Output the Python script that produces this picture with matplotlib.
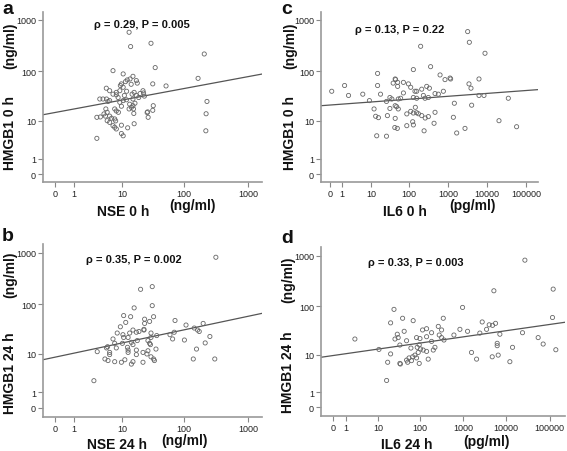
import numpy as np
import matplotlib
matplotlib.use("Agg")
import matplotlib.pyplot as plt

plt.rcParams['font.family'] = ['Liberation Sans', 'DejaVu Sans']

W, H = 567, 452

# panel a: NSE 0 h (ng/ml) vs HMGB1 0 h (ng/ml)
nse_0h = [13.2, 30, 14, 206, 7, 35, 165, 10.5, 15.3, 12.3, 13.7, 17.4, 11.5, 9.8, 9.4,
          10.5, 14.3, 18, 5.3, 6.1, 9.2, 8, 32, 52, 4.0, 5.35, 5.7, 6.1, 4.6, 7, 8, 8.6,
          9.2, 10.5, 11.9, 9.8, 13.5, 14.4, 15.3, 15.6, 13.2, 16, 14.8, 17.4, 15.3, 22.3,
          22.8, 23.5, 32.6, 32, 227, 5.2, 5.5, 4.8, 7.5, 8, 8.7, 15.8, 220, 3.5, 4.1, 5.1,
          6.1, 6.6, 7.5, 7.8, 26.5, 27, 26, 5.5, 6.1, 16, 7, 7.5, 8, 12.5, 9.8, 218, 9.8,
          10.5, 3.5, 12, 19, 11, 20, 16.5]
hmgb1_a = [572, 349, 301, 216, 102, 117, 72, 88, 79, 67, 70, 65, 62, 56, 52,
           48, 55, 58, 46, 41, 41, 38, 56, 51, 28, 28, 25, 26, 28, 35, 34, 30,
           24, 26, 27, 20, 22, 19, 20.5, 17.6, 17.6, 38, 35, 33, 28, 41,
           37, 32, 20.5, 16.5, 25, 17.6, 15, 13.9, 17.6, 16, 15, 14.2, 14, 11.8, 12, 12.5,
           12.5, 11.3, 10.9, 9.9, 15.3, 11.8, 14.8, 10, 9.2, 8.6, 7.8, 7.2, 6.6, 7, 8, 6, 5.2,
           4.6, 4, 40, 30, 33, 36, 23]

# panel b: NSE 24 h (ng/ml) vs HMGB1 24 h (ng/ml)
nse_24h = [312, 31.4, 20.4, 31.4, 16, 33, 10.7, 14, 11.6, 9.4, 23.7, 23.7, 28.5, 72, 107,
           198, 144, 162, 172, 252, 8.3, 13.5, 12.7, 10.7, 10.4, 15.3, 17.4, 19.2, 23.1,
           23.1, 30, 30, 26.8, 37, 60, 66, 70, 7, 7.5, 10.2, 14.4, 15.3, 18, 28.5, 29.4,
           101, 213, 5.6, 5.35, 8, 12.4, 12.7, 12.7, 17.4, 26.8, 36, 22.3, 25.8, 30, 33,
           17.4, 3.56, 5, 5.7, 6.1, 6.1, 7.5, 9.8, 14.4, 15.3, 22.3, 34, 139, 156, 300,
           3.05, 11.2]
hmgb1_b = [822, 221, 196, 94, 85, 57, 60, 57, 44, 36, 51, 42, 46, 48, 39,
           42, 34, 31, 29, 23, 27, 27, 22, 22, 25, 31, 28, 29, 31,
           32, 27, 22, 19, 24, 25, 20.5, 28, 20.5, 16.7, 16.7, 17.5, 15.7, 19, 16.7, 15.7,
           19.5, 17, 14.2, 13.4, 13.4, 13.8, 12.1, 10.8, 12.1, 11.7, 12.7, 10.8, 10, 8.7, 7.8,
           9.7, 11.2, 7.8, 7.2, 9.7, 10.8, 6.8, 6.6, 6, 6.8, 6.6, 7.2, 7.8, 12.7, 7.8,
           2.34, 7.5]

# panel c: IL6 0 h (pg/ml) vs HMGB1 0 h (ng/ml)
il6_0h = [3187, 3516, 200, 8830, 360, 130, 15, 44, 1130, 1170, 6200, 628, 840, 1.3, 15,
          0.08, 1.9, 5.7, 18, 45, 51, 39, 51, 72, 97, 111, 143, 158, 213, 286, 335, 467,
          568, 763, 315, 235, 259, 130, 158, 72, 61, 53, 32, 36, 26, 8.9, 12, 13.3, 15.8,
          27.5, 32, 44, 48, 53, 44, 50, 88, 125, 130, 158, 175, 213, 262, 315, 245, 441,
          1455, 1374, 2723, 1671, 3442, 3875, 4030, 8318, 6200, 20090, 34750, 56600,
          14.2, 26, 43, 467, 88, 111, 130, 146]
hmgb1_c = [589, 365, 305, 223, 122, 107, 90, 70, 73, 70, 70, 84, 68, 52, 52,
           40, 33, 35, 35, 68, 60, 58, 50, 60, 56, 48, 40, 40, 44, 50, 46, 36,
           35, 40, 30, 33, 29, 30, 29, 37, 29, 28, 30, 28, 25, 26, 17.6, 12.4, 11.6,
           12.8, 18, 20.5, 19.6, 17.6, 11.2, 6.8, 7.8, 9.5, 8.1, 14.7, 14, 12.8, 11.4, 12.2, 6, 8.8,
           23, 11.8, 6.8, 5.35, 56, 46, 21, 33, 33, 10, 29, 7.4,
           4.6, 4.5, 7.1, 15, 13.9, 15.7, 14.5, 19]

# panel d: IL6 24 h (pg/ml) vs HMGB1 24 h (ng/ml)
il6_24h = [27000, 121600, 5190, 981, 24.6, 117200, 39.5, 351, 70, 20.4, 2790, 5670, 4050,
           4840, 269, 852, 3520, 144, 116, 321, 29.5, 7140, 1280, 2460, 619, 23800, 31, 26,
           84, 101, 144, 188, 283, 321, 364, 54700, 188, 49, 34, 62, 87, 97, 104, 120, 144,
           92, 2.2, 10.5, 20.4, 17.3, 34, 35, 49, 56, 68, 77, 64, 84, 97, 157, 206, 225, 52,
           16.3, 1580, 2070, 4750, 6530, 6190, 6190, 12150, 14000, 71400, 140000, 43]
hmgb1_d = [819, 218, 202, 94, 86, 59, 57, 57, 51, 46, 48, 45, 42,
           41, 39, 34, 34, 35, 33, 33, 27, 27, 31, 28.5, 26, 29, 23, 21.5,
           23, 22, 24, 29, 26, 23, 20.5, 23, 19.2, 19.8, 16.1, 13.9, 14.4, 16.3, 13.3, 12.6, 11.8,
           11.2, 21.5, 13, 10.4, 6.8, 6.4, 6.2, 7.6, 8.5, 9, 9.8, 7.4, 8.5, 6.4, 8, 12.6, 14.4, 6.8,
           2.4, 11.2, 8, 9, 9.8, 15.6, 17.5, 7, 14.4, 16.9, 12.8, 31]

# fitted lines, log10(v + 1) space: (intercept, slope)
fit_a = (1.199, 0.233)
fit_b = (0.978, 0.265)
fit_c = (1.346, 0.0563)
fit_d = (1.025, 0.123)

stats_a = "\u03c1 = 0.29, P = 0.005"
stats_b = "\u03c1 = 0.35, P = 0.002"
stats_c = "\u03c1 = 0.13, P = 0.22"
stats_d = "\u03c1 = 0.33, P = 0.003"

nse_ticks = [0, 1, 10, 100, 1000]
il6_ticks = [0, 1, 10, 100, 1000, 10000, 100000]
hmgb1_ticks = [0, 1, 10, 100, 1000]


def fwd(v):
    return np.log10(np.clip(np.asarray(v, dtype=float) + 1, 1e-6, None))


def inv(u):
    return 10 ** np.asarray(u, dtype=float) - 1


def rect(left, top, right, bottom):
    return [left / W, 1 - bottom / H, (right - left) / W, (bottom - top) / H]


def label(ax, text, dx, dy, rot=0):
    ax.annotate(text, xy=(0, 0), xycoords='axes fraction', xytext=(dx, dy),
                textcoords='offset pixels', ha='center', va='center',
                rotation=rot, fontsize=10, fontweight='bold', color='#111')


def panel(r, xs, ys, fit, xticks, xlim, ylim):
    ax = fig.add_axes(rect(*r))
    ax.set_xscale('function', functions=(fwd, inv))
    ax.set_yscale('function', functions=(fwd, inv))
    ax.scatter(xs, ys, s=9, facecolors='none', edgecolors='#666666', linewidths=0.6,
               zorder=3)
    lx = np.array(xlim)
    ly = inv(fit[0] + fit[1] * fwd(lx))
    ax.plot(lx, ly, color='#555555', lw=0.9, zorder=2)
    ax.set_xlim(xlim)
    ax.set_ylim(ylim)
    ax.set_xticks(xticks)
    ax.set_xticklabels([str(t) for t in xticks])
    ax.set_yticks(hmgb1_ticks)
    ax.set_yticklabels([str(t) for t in hmgb1_ticks])
    ax.minorticks_off()
    for s in ['top', 'right']:
        ax.spines[s].set_visible(False)
    for s in ['left', 'bottom']:
        ax.spines[s].set_color('#999999')
        ax.spines[s].set_linewidth(1.2)
    ax.tick_params(length=3.5, width=0.8, color='#888888', labelsize=6.5, pad=1.5,
                   labelcolor='#222222')
    return ax


fig = plt.figure(figsize=(W / 100, H / 100), dpi=100)

ax_a = panel((43, 13, 262, 183), nse_0h, hmgb1_a, fit_a, nse_ticks,
             (-0.34, 1620), (-0.29, 1416))
label(ax_a, 'HMGB1 0 h', -33, 50, 90)
label(ax_a, '(ng/ml)', -33, 137, 90)
label(ax_a, 'NSE 0 h', 80, -29)
label(ax_a, '(ng/ml)', 150, -23)

ax_c = panel((321, 13, 538, 183), il6_0h, hmgb1_c, fit_c, il6_ticks,
             (-0.425, 199000), (-0.29, 1416))
label(ax_c, 'HMGB1 0 h', -31, 50, 90)
label(ax_c, '(ng/ml)', -31, 137, 90)
label(ax_c, 'IL6 0 h', 84, -29)
label(ax_c, '(pg/ml)', 152, -23)

ax_b = panel((43, 245, 262, 417.7), nse_24h, hmgb1_b, fit_b, nse_ticks,
             (-0.34, 1620), (-0.33, 1486))
label(ax_b, 'HMGB1 24 h', -33, 45, 90)
label(ax_b, '(ng/ml)', -33, 143, 90)
label(ax_b, 'NSE 24 h', 74, -27)
label(ax_b, '(ng/ml)', 142, -23)

ax_d = panel((321, 248, 565, 416.7), il6_24h, hmgb1_d, fit_d, il6_ticks,
             (-0.472, 228000), (-0.318, 1493))
label(ax_d, 'HMGB1 24 h', -33, 45, 90)
label(ax_d, '(ng/ml)', -33, 137, 90)
label(ax_d, 'IL6 24 h', 86, -28)
label(ax_d, '(pg/ml)', 165, -25)

for txt, x, y in [(stats_a, 142, 25), (stats_b, 134, 260), (stats_c, 400, 30), (stats_d, 416, 263)]:
    fig.text(x / W, 1 - y / H, txt, ha='center', va='center', fontsize=8,
             fontweight='bold', color='#111')

for letter, x, y in [('a', 2, 1), ('b', 2, 228), ('c', 281, 1), ('d', 281, 230)]:
    fig.text(x / W, 1 - y / H, letter, ha='left', va='top', fontsize=14,
             fontweight='bold', color='#111')

fig.savefig('out.png', dpi=100)
